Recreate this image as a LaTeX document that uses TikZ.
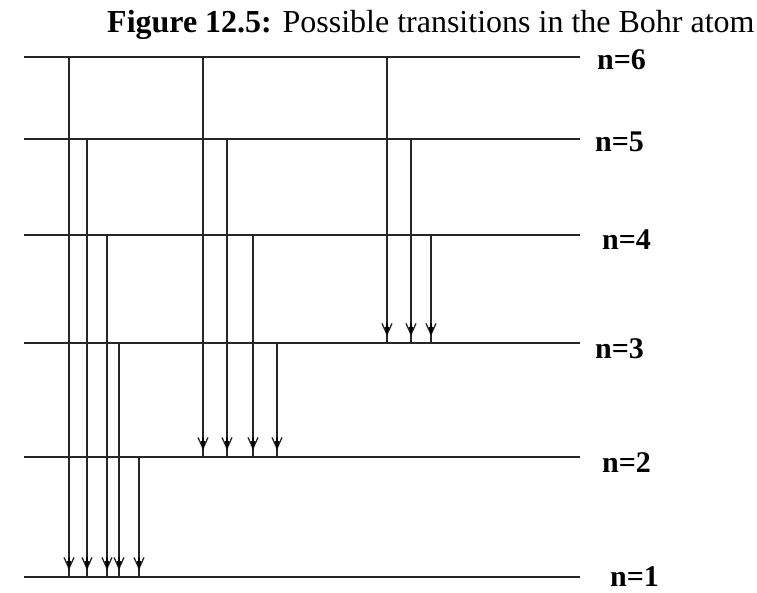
\documentclass[tikz,border=0pt]{standalone}
\usepackage{fontspec}
\setmainfont{Liberation Serif}
\usetikzlibrary{arrows.meta}
\begin{document}
\begin{tikzpicture}[x=1pt,y=-1pt,
  level/.style={line width=1.3pt, black!85},
  shaft/.style={line width=1.3pt, black!85},
  trans/.style={line width=1.3pt, black!85, -{Straight Barb[length=11pt,width=10pt,line width=1.3pt]}},
  headfill/.style={line width=1.3pt, black, -{Triangle[length=9pt,width=4.5pt]}},
  lab/.style={font=\fontsize{30}{32}\selectfont\bfseries, anchor=base west, inner sep=0pt}]
\useasboundingbox (0,0) rectangle (757,593);
% title
\node[anchor=base west, inner sep=0pt, font=\fontsize{32}{34}\selectfont] (title) at (107,33)
  {\textbf{Figure 12.5:} Possible transitions in the Bohr atom};
% levels
\coordinate (L6) at (24,57);  \coordinate (R6) at (580,57);
\coordinate (L5) at (24,139); \coordinate (R5) at (580,139);
\coordinate (L4) at (24,235); \coordinate (R4) at (580,235);
\coordinate (L3) at (24,343); \coordinate (R3) at (580,343);
\coordinate (L2) at (24,457); \coordinate (R2) at (580,457);
\coordinate (L1) at (24,577); \coordinate (R1) at (580,577);
\foreach \i in {1,...,6} {\draw[level] (L\i) -- (R\i);}
% labels
\node[lab] (n6) at (597,70) {n=6};
\node[lab] (n5) at (595,152) {n=5};
\node[lab] (n4) at (602,250) {n=4};
\node[lab] (n3) at (595,358) {n=3};
\node[lab] (n2) at (602,472) {n=2};
\node[lab] (n1) at (610,586) {n=1};
% transition columns
\coordinate (c1) at (69,0);  \coordinate (c2) at (87,0);  \coordinate (c3) at (107,0);
\coordinate (c4) at (119,0); \coordinate (c5) at (139,0);
\coordinate (c6) at (203,0); \coordinate (c7) at (227,0); \coordinate (c8) at (253,0);
\coordinate (c9) at (277,0);
\coordinate (c10) at (387,0); \coordinate (c11) at (411,0); \coordinate (c12) at (431,0);
% transitions: upper level -> lower level
\foreach \c/\u/\l in {c1/L6/L1, c2/L5/L1, c3/L4/L1, c4/L3/L1, c5/L2/L1,
                      c6/L6/L2, c7/L5/L2, c8/L4/L2, c9/L3/L2,
                      c10/L6/L3, c11/L5/L3, c12/L4/L3} {
  \draw[shaft] (\c |- \l) -- ([yshift=10pt]\c |- \l);
  \draw[trans] (\c |- \u) -- ([yshift=7pt]\c |- \l);
  \draw[headfill] ([yshift=20pt]\c |- \l) -- ([yshift=7pt]\c |- \l);
}
\end{tikzpicture}
\end{document}
